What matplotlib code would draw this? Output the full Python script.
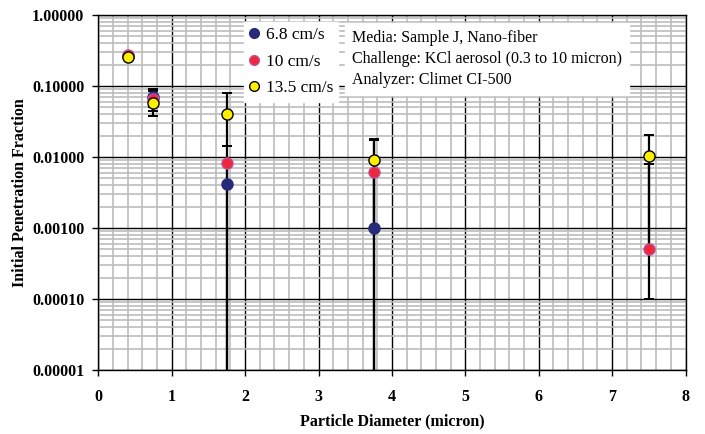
import numpy as np
import matplotlib
matplotlib.use("Agg")
import matplotlib.pyplot as plt
from matplotlib.lines import Line2D
from matplotlib.ticker import LogLocator, MultipleLocator, FuncFormatter

plt.rcParams['font.family'] = ['Liberation Serif', 'DejaVu Serif']

# Particle diameters (micron)
diameter = [0.4, 0.75, 1.75, 3.75, 7.5]

# Initial penetration fraction per face velocity
pen_68 = [0.265, 0.070, 0.0041, 0.0010, np.nan]
pen_10 = [0.270, 0.066, 0.0082, 0.0062, 0.0005]
pen_135 = [0.260, 0.058, 0.040, 0.0091, 0.0102]

# Error bar bounds (low, high); 1e-8 means the bar runs off the bottom of the axis
low_68 = [0.245, 0.0445, 1e-8, 1e-8, np.nan]
high_68 = [0.290, 0.090, 0.0082, 0.0062, np.nan]
low_10 = [0.250, 0.0377, 1e-8, 1e-8, 0.0001]
high_10 = [0.290, 0.085, 0.0144, 0.0175, 0.0079]
low_135 = [0.240, 0.050, 0.0144, 0.0010, 0.0005]
high_135 = [0.280, 0.068, 0.079, 0.018, 0.0204]

series = [
    ("6.8 cm/s", pen_68, low_68, high_68, "#262a78", "#262a78"),
    ("10 cm/s", pen_10, low_10, high_10, "#f0263c", "#c0509a"),
    ("13.5 cm/s", pen_135, low_135, high_135, "#ffee00", "#000000"),
]

fig = plt.figure(figsize=(7.05, 4.34), dpi=100)
ax = fig.add_axes([98.3 / 705, 1 - 370 / 434, (685.5 - 98.3) / 705, (370 - 15) / 434])

ax.set_yscale('log')
ax.set_xlim(0, 8)
ax.set_ylim(1e-5, 1.0)

for label, vals, lo, hi, fc, ec in series:
    v = np.array(vals, dtype=float)
    lo = np.array(lo, dtype=float)
    hi = np.array(hi, dtype=float)
    yerr = np.vstack([v - lo, hi - v])
    ax.errorbar(diameter, v, yerr=yerr, fmt='none', ecolor='black',
                elinewidth=1.6, capsize=3.5, capthick=1.4, zorder=3)
for label, vals, lo, hi, fc, ec in series:
    ax.plot(diameter, vals, linestyle='none', marker='o', markersize=8,
            markerfacecolor=fc, markeredgecolor=ec, markeredgewidth=1.0,
            zorder=4, label=label)

# Grid: black decades / whole microns, grey minor divisions
ax.xaxis.set_major_locator(MultipleLocator(1))
ax.xaxis.set_minor_locator(MultipleLocator(0.2))
ax.yaxis.set_major_locator(LogLocator(base=10, numticks=10))
ax.yaxis.set_minor_locator(LogLocator(base=10, subs=np.arange(2, 10), numticks=20))
ax.grid(which='minor', color='#bcbcbc', linewidth=1.2, zorder=0)
ax.grid(which='major', color='black', linewidth=1.0, zorder=1)
ax.set_axisbelow(True)

ax.yaxis.set_major_formatter(FuncFormatter(lambda y, _: f"{y:.5f}"))
ax.tick_params(axis='both', which='major', direction='out', length=4, width=1,
               labelsize=11.5)
ax.tick_params(axis='both', which='minor', length=0)
ax.tick_params(axis='x', pad=10)
ax.tick_params(axis='y', pad=6)
for lbl in ax.get_xticklabels() + ax.get_yticklabels():
    lbl.set_fontweight('bold')

for sp in ax.spines.values():
    sp.set_color('black')
    sp.set_linewidth(1.0)

ax.set_xlabel("Particle Diameter (micron)", fontsize=11.5, fontweight='bold', labelpad=6)
ax.set_ylabel("Initial Penetration Fraction", fontsize=11.5, fontweight='bold', labelpad=3)

handles = [Line2D([], [], linestyle='none', marker='o', markersize=7,
                  markerfacecolor=fc, markeredgecolor=ec, markeredgewidth=1.0)
           for _, _, _, _, fc, ec in series]
labels = [s[0] for s in series]
leg = ax.legend(handles, labels, loc='upper left',
                bbox_to_anchor=(244 / 705, 1 - 22 / 434),
                bbox_transform=fig.transFigure, fontsize=12.5,
                frameon=True, fancybox=False, framealpha=1,
                facecolor='white', edgecolor='white',
                borderpad=0.3, labelspacing=0.6, handlelength=0.6,
                handletextpad=0.35, borderaxespad=0)
leg.set_zorder(6)

fig.text(352 / 705, 1 - 30 / 434,
         "Media: Sample J, Nano-fiber\n"
         "Challenge: KCl aerosol (0.3 to 10 micron)\n"
         "Analyzer: Climet CI-500",
         fontsize=11.5, va='top', ha='left', linespacing=1.4, zorder=7,
         bbox=dict(boxstyle='square,pad=0.45', facecolor='white', edgecolor='white'))

fig.savefig("out.png", dpi=100)
